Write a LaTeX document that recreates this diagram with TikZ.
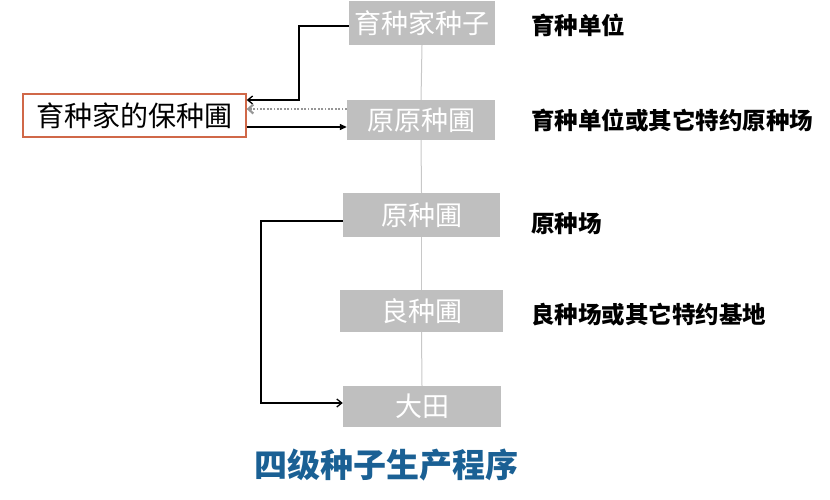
\documentclass[tikz,border=0pt]{standalone}
\usepackage{fontspec}
\setmainfont{Noto Sans CJK SC}
\usetikzlibrary{arrows.meta}
\definecolor{boxgray}{RGB}{191,191,191}
\definecolor{linegray}{RGB}{200,200,200}
\definecolor{dotgray}{RGB}{150,150,150}
\definecolor{borderred}{RGB}{208,104,72}
\definecolor{titleblue}{RGB}{26,96,148}
\tikzset{
  graybox/.style={fill=boxgray, draw=none, text=white, inner sep=0pt,
    font=\fontsize{27}{30}\selectfont},
  sidelabel/.style={anchor=west, inner sep=0pt, font=\fontsize{23.5}{28}\selectfont\bfseries},
  vline/.style={draw=linegray, line width=1pt},
  conn/.style={draw=black, line width=1.3pt},
  openarrow/.style={-{Straight Barb[length=5pt,width=8pt]}},
  fillarrow/.style={-{Triangle[length=7pt,width=6pt]}}
}
\begin{document}
\begin{tikzpicture}[x=1pt,y=-1pt]
\useasboundingbox (0,0) rectangle (830,500);
% stage boxes
\node[graybox, minimum width=146pt, minimum height=44pt] (s1) at (422,23) {育种家种子};
\node[graybox, minimum width=148pt, minimum height=40pt] (s2) at (421,120) {原原种圃};
\node[graybox, minimum width=157pt, minimum height=44pt] (s3) at (421.5,215) {原种圃};
\node[graybox, minimum width=163pt, minimum height=42pt] (s4) at (421.5,311) {良种圃};
\node[graybox, minimum width=158pt, minimum height=41pt] (s5) at (422,406.5) {大田};
% keeper box
\node[draw=borderred, line width=1.3pt, fill=white, minimum width=223pt, minimum height=43pt,
  inner sep=0pt, font=\fontsize{28}{30}\selectfont] (keep) at (134.5,115.5) {育种家的保种圃};
% vertical connectors
\draw[vline] (s1.south) -- (s2.north);
\draw[vline] (s2.south) -- (s3.north);
\draw[vline] (s3.south) -- (s4.north);
\draw[vline] (s4.south) -- (s5.north);
% arrows
\coordinate (c1) at (299,26);
\coordinate (c2) at (299,100);
\draw[conn, openarrow] ([yshift=-3pt]s1.west) -- (c1) -- (c2) -- ([yshift=15.5pt]keep.east);
\draw[draw=dotgray, line width=2.2pt, dash pattern=on 1.8pt off 1.6pt,
  -{Straight Barb[length=5pt,width=9pt]}]
  ([yshift=11pt]s2.west) -- ([yshift=6.5pt]keep.east);
\draw[conn, fillarrow] ([yshift=-11.5pt]keep.east) -- ([yshift=-7pt]s2.west);
\coordinate (c3) at (261,221);
\coordinate (c4) at (261,403);
\draw[conn, openarrow] ([yshift=-6pt]s3.west) -- (c3) -- (c4) -- ([yshift=3.5pt]s5.west);
% side labels
\node[sidelabel] (l1) at (531,25) {育种单位};
\node[sidelabel] (l2) at (531,120) {育种单位或其它特约原种场};
\node[sidelabel] (l3) at (531,224) {原种场};
\node[sidelabel] (l4) at (531,315) {良种场或其它特约基地};
% title
\node[text=titleblue, inner sep=0pt, font=\fontsize{33}{36}\selectfont\bfseries] (title) at (386,465) {四级种子生产程序};
\end{tikzpicture}
\end{document}
